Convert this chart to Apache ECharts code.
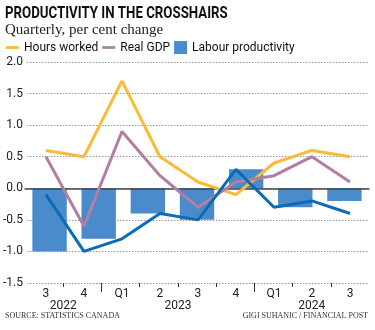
<!DOCTYPE html>
<html>
<head>
<meta charset="utf-8">
<script src="https://cdn.jsdelivr.net/npm/echarts@6/dist/echarts.min.js"></script>
<style>
  html, body { margin: 0; padding: 0; background: #fff; }
  #chart { width: 375px; height: 330px; }
</style>
</head>
<body>
<div id="chart"></div>
<script>
// Quarterly per cent change, Q3 2022 to Q3 2024
const quarters = ['3', '4', 'Q1', '2', '3', '4', 'Q1', '2', '3'];
const quarterYears = ['2022', '2022', '2023', '2023', '2023', '2023', '2024', '2024', '2024'];
const hoursWorked = [0.6, 0.5, 1.7, 0.5, 0.1, -0.1, 0.4, 0.6, 0.5];
const realGDP = [0.5, -0.6, 0.9, 0.2, -0.3, 0.1, 0.2, 0.5, 0.1];
const productivityLine = [-0.1, -1.0, -0.8, -0.4, -0.5, 0.3, -0.3, -0.2, -0.4];
const productivityBars = [-1.0, -0.8, -0.4, -0.5, 0.3, -0.3, -0.2];
const barQuarters = quarters.slice(1, 1 + productivityBars.length).map((q, i) => q + '-' + i);
const yMin = -1.5, yMax = 2.0, yStep = 0.5;

// Year groups: label centred on each year's quarters, long ticks where a year starts
const years = [];
quarterYears.forEach((y, i) => {
  const last = years[years.length - 1];
  if (last && last.name === y) { last.end = i; } else { years.push({ name: y, start: i, end: i }); }
});
const yearCentres = years.map(g => (g.start + g.end + 1) / 2);
const yearStarts = years.slice(1).map(g => g.start);
const quarterBounds = quarters.map((q, i) => i).filter(i => i > 0 && yearStarts.indexOf(i) < 0);

const SANS = 'Roboto, "Liberation Sans", sans-serif';
const SERIF = '"Liberation Serif", "DejaVu Serif", serif';
const C_HOURS = '#FDB93C', C_GDP = '#B17FA2', C_BAR = '#4A8BCB', C_PROD = '#0A6CB7';

const gridBox = { left: 25, right: 6, top: 62, bottom: 47 };
const lineIcon = 'path://M0,0H14V3H0Z';

const chart = echarts.init(document.getElementById('chart'), null, { renderer: 'canvas' });
chart.setOption({
  animation: false,
  backgroundColor: '#fff',
  graphic: [
    { type: 'text', x: 5, y: 5, scaleX: 0.78, silent: true,
      style: { text: 'PRODUCTIVITY IN THE CROSSHAIRS', font: 'bold 17px Roboto, sans-serif',
        fill: '#111', textVerticalAlign: 'top' } }
  ],
  title: [
    { text: 'Quarterly, per cent change', left: 5, top: 23, padding: 0,
      textStyle: { fontFamily: SERIF, fontWeight: 'normal', fontSize: 15, color: '#222' } },
    { text: 'SOURCE: STATISTICS CANADA', left: 5, top: 312, padding: 0,
      textStyle: { fontFamily: SERIF, fontWeight: 'normal', fontSize: 8, color: '#333' } },
    { text: 'GIGI SUHANIC / FINANCIAL POST', right: 7, top: 312, padding: 0,
      textStyle: { fontFamily: SERIF, fontWeight: 'normal', fontSize: 8, color: '#333' } }
  ],
  legend: {
    left: 6, top: 41, padding: 0, itemGap: 4, itemWidth: 13, itemHeight: 13,
    textStyle: { fontFamily: SANS, fontSize: 12, color: '#111' },
    data: [
      { name: 'Hours worked', icon: lineIcon },
      { name: 'Real GDP', icon: lineIcon },
      { name: 'Labour productivity', icon: 'rect' }
    ]
  },
  grid: [
    Object.assign({}, gridBox),
    Object.assign({}, gridBox),
    Object.assign({}, gridBox)
  ],
  xAxis: [
    { type: 'category', gridIndex: 0, data: quarters, boundaryGap: true, position: 'bottom',
      axisLine: { show: false }, axisTick: { show: false },
      axisLabel: { fontFamily: SANS, fontSize: 12, color: '#222', margin: 5 } },
    { type: 'category', gridIndex: 1, data: barQuarters, boundaryGap: true, position: 'top', z: 3,
      axisLine: { show: true, onZero: true, lineStyle: { color: '#444', width: 1.5 } },
      axisTick: { show: false }, axisLabel: { show: false }, splitLine: { show: false } },
    { type: 'value', gridIndex: 1, min: 0, max: quarters.length, position: 'bottom',
      axisLine: { show: false, onZero: false }, splitLine: { show: false },
      axisTick: { show: true, customValues: yearStarts, length: 9, lineStyle: { color: '#333', width: 1 } },
      axisLabel: { show: true, customValues: yearCentres, margin: 17,
        fontFamily: SANS, fontSize: 12, color: '#222',
        formatter: v => { const k = yearCentres.indexOf(v); return k >= 0 ? years[k].name : ''; } } },
    { type: 'value', gridIndex: 2, min: 0, max: quarters.length, position: 'bottom',
      axisLine: { show: false, onZero: false }, splitLine: { show: false },
      axisTick: { show: true, customValues: quarterBounds, length: 4, lineStyle: { color: '#333', width: 1 } },
      axisLabel: { show: false } }
  ],
  yAxis: [
    { type: 'value', gridIndex: 0, min: yMin, max: yMax, interval: yStep,
      axisLine: { show: false }, axisTick: { show: false },
      axisLabel: { fontFamily: SANS, fontSize: 12, color: '#222', margin: 4,
        formatter: v => v.toFixed(1) },
      splitLine: { show: true, lineStyle: { color: '#999', type: [1.5, 1.5], width: 1 } } },
    { type: 'value', gridIndex: 1, min: yMin, max: yMax, interval: yStep, show: false,
      splitLine: { show: false } },
    { type: 'value', gridIndex: 2, min: 0, max: 1, show: false, splitLine: { show: false } }
  ],
  series: [
    { name: 'Labour productivity', type: 'bar', xAxisIndex: 1, yAxisIndex: 1,
      data: productivityBars, barCategoryGap: '30%', z: 2,
      itemStyle: { color: C_BAR } },
    { name: 'Hours worked', type: 'line', xAxisIndex: 0, yAxisIndex: 0, data: hoursWorked,
      symbol: 'none', z: 4, color: C_HOURS, itemStyle: { color: C_HOURS },
      lineStyle: { color: C_HOURS, width: 3 } },
    { name: 'Real GDP', type: 'line', xAxisIndex: 0, yAxisIndex: 0, data: realGDP,
      symbol: 'none', z: 4, color: C_GDP, itemStyle: { color: C_GDP },
      lineStyle: { color: C_GDP, width: 3 } },
    { name: 'Labour productivity trend', type: 'line', xAxisIndex: 0, yAxisIndex: 0, data: productivityLine,
      symbol: 'none', z: 4, color: C_PROD, itemStyle: { color: C_PROD },
      lineStyle: { color: C_PROD, width: 3 } }
  ]
});
</script>
</body>
</html>
